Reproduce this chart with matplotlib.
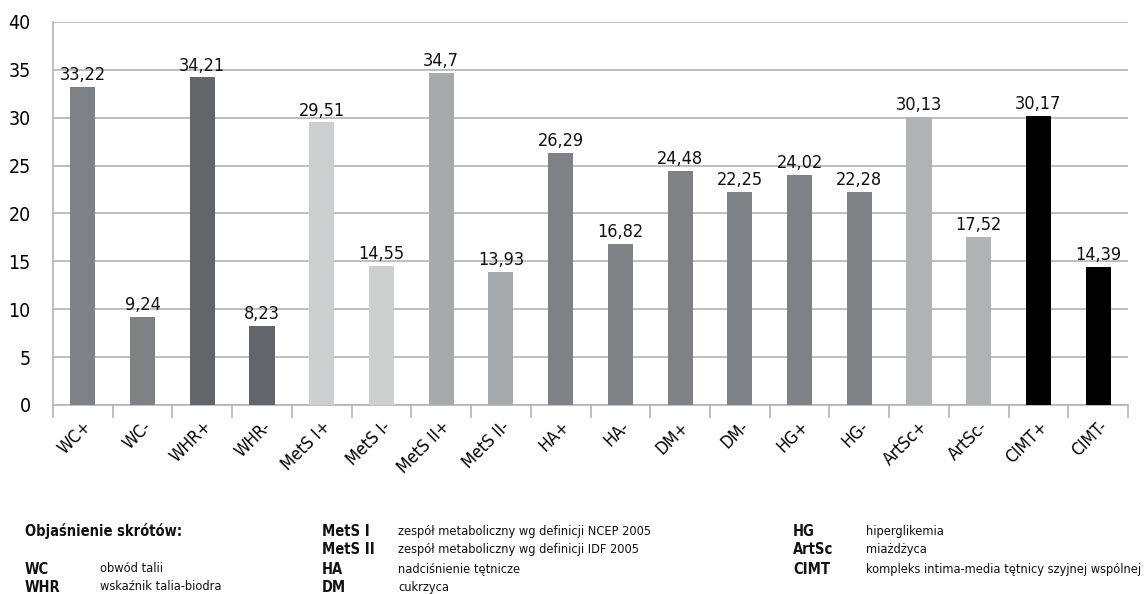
import numpy as np
import matplotlib
matplotlib.use("Agg")
import matplotlib.pyplot as plt
from matplotlib import font_manager as fm
from matplotlib.ticker import FixedLocator, NullFormatter

# pick the condensed DejaVu faces directly by file
cond = {}
for f in fm.fontManager.ttflist:
    base = f.fname.split("/")[-1]
    if base == "DejaVuSansCondensed.ttf":
        cond["regular"] = f.fname
    elif base == "DejaVuSansCondensed-Bold.ttf":
        cond["bold"] = f.fname


def font(size, bold=False):
    path = cond.get("bold" if bold else "regular")
    if path:
        return fm.FontProperties(fname=path, size=size)
    return fm.FontProperties(family="DejaVu Sans", stretch="condensed", size=size,
                             weight="bold" if bold else "normal")


# ── data ──────────────────────────────────────────────
categories = ["WC+", "WC-", "WHR+", "WHR-", "MetS I+", "MetS I-", "MetS II+", "MetS II-",
              "HA+", "HA-", "DM+", "DM-", "HG+", "HG-", "ArtSc+", "ArtSc-", "CIMT+", "CIMT-"]
values = [33.22, 9.24, 34.21, 8.23, 29.51, 14.55, 34.7, 13.93,
          26.29, 16.82, 24.48, 22.25, 24.02, 22.28, 30.13, 17.52, 30.17, 14.39]
labels = ["33,22", "9,24", "34,21", "8,23", "29,51", "14,55", "34,7", "13,93",
          "26,29", "16,82", "24,48", "22,25", "24,02", "22,28", "30,13", "17,52", "30,17", "14,39"]
colors = ["#808184", "#808184", "#646568", "#646568", "#cdcecf", "#cdcecf", "#a7a9ab", "#a7a9ab",
          "#808184", "#808184", "#808184", "#808184", "#808184", "#808184", "#b1b2b4", "#b1b2b4",
          "#000000", "#000000"]

legend_rows = [
    [("Objaśnienie skrótów:", ""), ("MetS I", "zespół metaboliczny wg definicji NCEP 2005"), ("HG", "hiperglikemia")],
    [None, ("MetS II", "zespół metaboliczny wg definicji IDF 2005"), ("ArtSc", "miażdżyca")],
    [("WC", "obwód talii"), ("HA", "nadciśnienie tętnicze"), ("CIMT", "kompleks intima-media tętnicy szyjnej wspólnej")],
    [("WHR", "wskaźnik talia-biodra"), ("DM", "cukrzyca"), None],
]

# ── chart ─────────────────────────────────────────────
W, H = 1145, 594
fig = plt.figure(figsize=(W / 100, H / 100), dpi=100)
ax = fig.add_axes([53 / W, 1 - 405 / H, (1128 - 53) / W, (405 - 22) / H])

x = np.arange(len(categories))
ax.bar(x, values, width=0.42, color=colors, zorder=3)

for xi, v, lab in zip(x, values, labels):
    ax.text(xi, v + 0.3, lab, ha="center", va="bottom", fontproperties=font(13), color="#111111")

ax.set_xlim(-0.5, len(categories) - 0.5)
ax.set_ylim(0, 40)
ax.set_yticks(range(0, 45, 5))
ax.set_yticklabels([str(t) for t in range(0, 45, 5)], fontproperties=font(14))
ax.tick_params(axis="y", length=0, pad=16)
ax.yaxis.grid(True, color="#b4b4b4", linewidth=1.2, zorder=0)

ax.set_xticks(x)
ax.set_xticklabels(categories, rotation=45, ha="right", rotation_mode="anchor",
                   fontproperties=font(12.5))
ax.tick_params(axis="x", which="major", length=0, pad=9)
ax.xaxis.set_minor_locator(FixedLocator(np.arange(-0.5, len(categories), 1.0)))
ax.xaxis.set_minor_formatter(NullFormatter())
ax.tick_params(axis="x", which="minor", length=9, color="#b4b4b4", width=1.2)

for side in ["top", "right"]:
    ax.spines[side].set_visible(False)
for side in ["left", "bottom"]:
    ax.spines[side].set_color("#b4b4b4")
    ax.spines[side].set_linewidth(1.2)

# ── abbreviation key under the chart ──────────────────
row_y = [531, 550, 569, 587]
col_x = [(25, 100), (322, 398), (793, 866)]
for ry, row in zip(row_y, legend_rows):
    for (ax_abbr, ax_desc), item in zip(col_x, row):
        if item is None:
            continue
        abbr, desc = item
        fig.text(ax_abbr / W, 1 - ry / H, abbr, fontproperties=font(10.5, bold=True),
                 ha="left", va="center", color="#111111")
        if desc:
            fig.text(ax_desc / W, 1 - ry / H, desc, fontproperties=font(9.2),
                     ha="left", va="center", color="#111111")

fig.savefig("out.png", dpi=100)
